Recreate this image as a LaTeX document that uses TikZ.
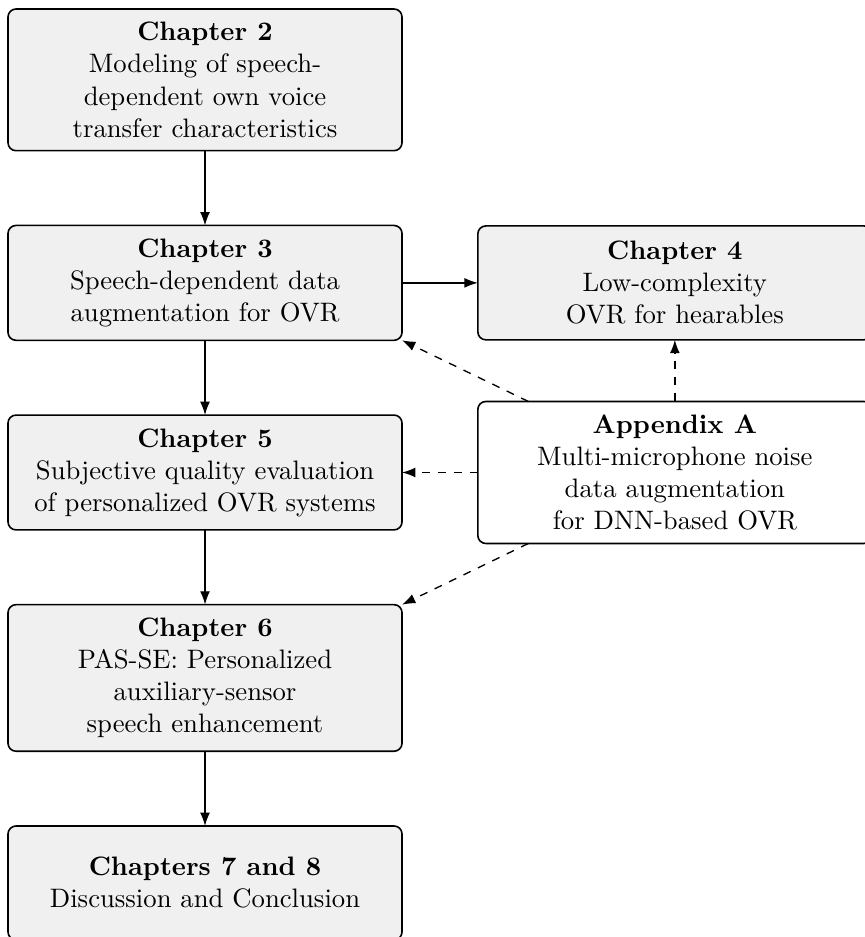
\documentclass[tikz,border=0pt]{standalone}
\usetikzlibrary{positioning,arrows.meta}
\definecolor{boxfill}{RGB}{240,240,240}
\begin{document}
\begin{tikzpicture}[
  chapbox/.style={draw, semithick, rounded corners=3pt, fill=boxfill,
    align=center, minimum width=147.6pt, minimum height=1.5cm,
    inner sep=5pt, outer sep=0pt},
  appbox/.style={chapbox, fill=white},
  flow/.style={-{Latex[length=5pt,width=3.7pt]}, line width=0.5pt},
  dep/.style={flow, dashed},
  node distance=28pt and 28.4pt
]
\useasboundingbox (0,0) rectangle (324pt,-351pt);

\node[chapbox, anchor=north west] (ch2) at (3pt,-3.37pt)
  {\textbf{Chapter 2}\\Modeling of speech-\\dependent own voice\\transfer characteristics};
\node[chapbox, below=of ch2] (ch3)
  {\textbf{Chapter 3}\\Speech-dependent data\\augmentation for OVR};
\node[chapbox, right=of ch3] (ch4)
  {\textbf{Chapter 4}\\Low-complexity\\OVR for hearables};
\node[chapbox, below=of ch3] (ch5)
  {\textbf{Chapter 5}\\Subjective quality evaluation\\of personalized OVR systems};
\node[appbox] (appA) at (ch4 |- ch5)
  {\textbf{Appendix A}\\Multi-microphone noise\\data augmentation\\for DNN-based OVR};
\node[chapbox, below=of ch5] (ch6)
  {\textbf{Chapter 6}\\PAS-SE: Personalized\\auxiliary-sensor\\speech enhancement};
\node[chapbox, below=of ch6] (ch7)
  {\textbf{Chapters 7 and 8}\\Discussion and Conclusion};

\draw[flow] (ch2) -- (ch3);
\draw[flow] (ch3) -- (ch4);
\draw[flow] (ch3) -- (ch5);
\draw[flow] (ch5) -- (ch6);
\draw[flow] (ch6) -- (ch7);

\draw[dep] (appA) -- (ch3.south east);
\draw[dep] (appA) -- (ch4);
\draw[dep] (appA) -- (ch5);
\draw[dep] (appA) -- (ch6.north east);
\end{tikzpicture}
\end{document}
